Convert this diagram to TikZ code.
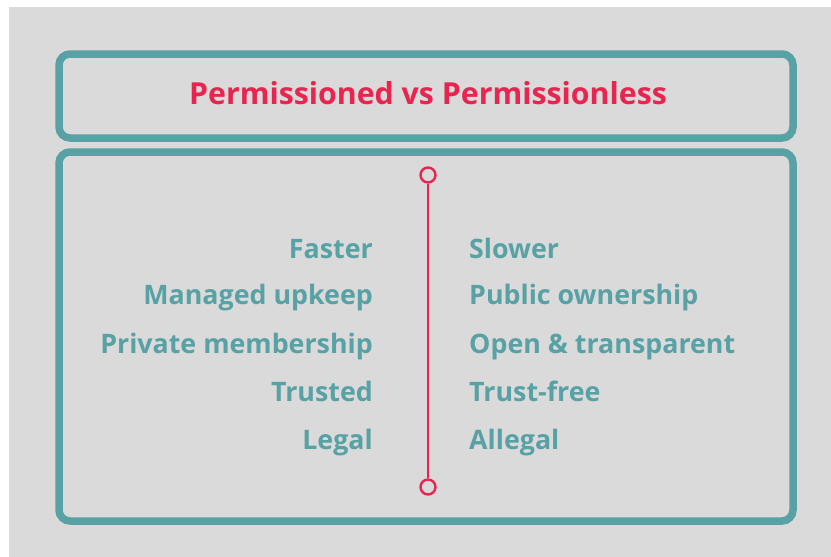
\documentclass[tikz,border=0pt]{standalone}
\usepackage{fontspec}
\setmainfont{Open Sans}
\usepackage{tikz}

\definecolor{tealc}{HTML}{58A1A4}
\definecolor{crim}{HTML}{E8244F}
\definecolor{bgc}{HTML}{DADADA}

\begin{document}
\begin{tikzpicture}
  [x=1pt,y=-1pt,
   frame/.style={draw=tealc,line width=7.5pt,rounded corners=11pt},
   left/.style={anchor=base east,inner sep=0pt,text=tealc,font=\bfseries\fontsize{26.8}{32}\selectfont},
   right/.style={anchor=base west,inner sep=0pt,text=tealc,font=\bfseries\fontsize{26.8}{32}\selectfont},
   dot/.style={circle,draw=crim,line width=2.4pt,minimum size=15pt,inner sep=0pt}]
  \useasboundingbox (0,0) rectangle (831,557);
  \fill[white] (0,0) rectangle (831,557);
  \fill[bgc] (9,7) rectangle (831,557);
  \draw[frame] (59,54) rectangle (793,138);
  \draw[frame] (59,152) rectangle (793,521);
  \node (title) at (428,93) [text=crim,font=\bfseries\fontsize{30.3}{36}\selectfont] {Permissioned vs Permissionless};
  \node[dot] (top) at (428,175) {};
  \node[dot] (bot) at (428,487) {};
  \draw[crim,line width=2.4pt] (top) -- (bot);
  \foreach \y/\l/\r/\n in {258/Faster/Slower/1,304/Managed upkeep/Public ownership/2,
    353/Private membership/Open \& transparent/3,401/Trusted/Trust-free/4,449/Legal/Allegal/5}
  {
    \node[left] (l\n) at (373,\y) {\l};
    \node[right] (r\n) at (469,\y) {\r};
  }
\end{tikzpicture}
\end{document}
